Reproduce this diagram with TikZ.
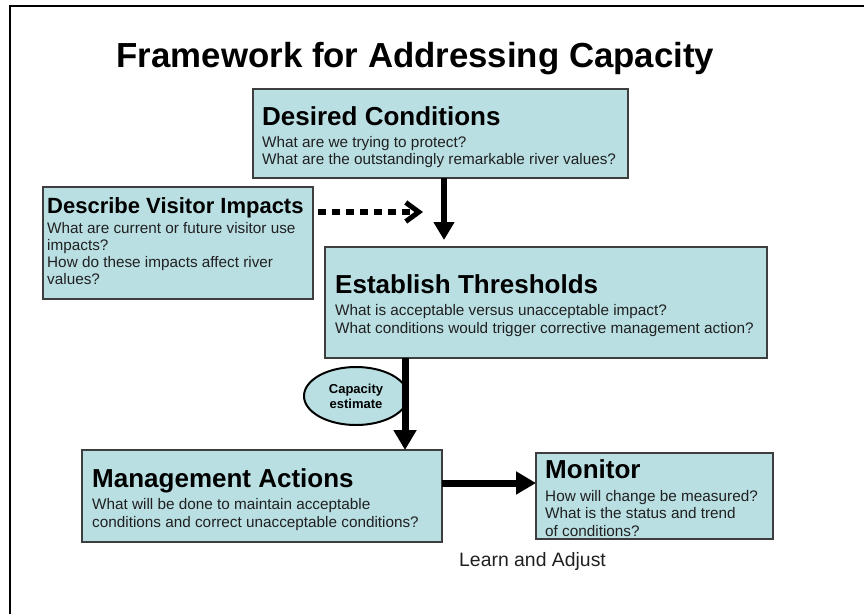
\documentclass[tikz,border=0pt]{standalone}
\usepackage{fontspec}
\setmainfont{Liberation Sans}
\usetikzlibrary{arrows.meta,shapes.geometric}
\definecolor{boxfill}{RGB}{185,223,227}
\definecolor{boxline}{RGB}{62,62,62}
\definecolor{bodytext}{RGB}{32,32,32}
\begin{document}
\begin{tikzpicture}[x=1pt,y=-1pt,
  panel/.style={draw=boxline, fill=boxfill, line width=1.4pt, rectangle,
                inner sep=0pt, outer sep=0pt, anchor=north west},
  head/.style={anchor=base west, inner sep=0pt, font=\fontsize{26}{30}\selectfont\bfseries},
  smallhead/.style={anchor=base west, inner sep=0pt, font=\fontsize{22}{26}\selectfont\bfseries},
  ln/.style={anchor=base west, inner sep=0pt, text=bodytext, font=\fontsize{15.3}{18}\selectfont},
  flow/.style={line width=7pt, -{Triangle[width=22pt,length=20pt]}},
  thinflow/.style={line width=6pt, -{Triangle[width=20pt,length=18pt]}},
  dotlink/.style={line width=6pt, dash pattern=on 8pt off 6pt,
                  -{Straight Barb[length=13pt,width=19pt,line width=5pt]}},
  bubble/.style={ellipse, draw=black, line width=2pt, fill=boxfill, inner sep=0pt,
                 minimum width=104pt, minimum height=58pt, align=center,
                 font=\fontsize{13}{15}\selectfont\bfseries}
]
\useasboundingbox (0,0) rectangle (864,614);

% outer frame (top and left edges)
\draw[line width=2.5pt] (10,614) -- (10,6) -- (864,6);

% title
\node[anchor=base, inner sep=0pt, font=\fontsize{34.8}{40}\selectfont\bfseries]
  (title) at (415.5,67) {Framework for Addressing Capacity};

% panels
\node[panel, minimum width=375pt, minimum height=89pt]  (dc)  at (253,89)  {};
\node[panel, minimum width=270pt, minimum height=112pt] (dvi) at (43,187)  {};
\node[panel, minimum width=442pt, minimum height=111pt] (et)  at (325,247) {};
\node[panel, minimum width=360pt, minimum height=92pt]  (ma)  at (82,450)  {};
\node[panel, minimum width=237pt, minimum height=86pt]  (mon) at (536,453) {};

% Desired Conditions
\node[head] (dcH)  at (262,125) {Desired Conditions};
\node[ln]   (dcA)  at (262,147) {What are we trying to protect?};
\node[ln]   (dcB)  at (262,164) {What are the outstandingly remarkable river values?};

% Describe Visitor Impacts
\node[smallhead] (dviH) at (47,213) {Describe Visitor Impacts};
\node[ln] (dviA) at (47,233) {What are current or future visitor use};
\node[ln] (dviB) at (47,250) {impacts?};
\node[ln] (dviC) at (47,267) {How do these impacts affect river};
\node[ln] (dviD) at (47,284) {values?};

% Establish Thresholds
\node[head] (etH) at (335,293) {Establish Thresholds};
\node[ln]   (etA) at (335,315) {What is acceptable versus unacceptable impact?};
\node[ln]   (etB) at (335,333) {What conditions would trigger corrective management action?};

% Management Actions
\node[head] (maH) at (92,487) {Management Actions};
\node[ln]   (maA) at (92,509) {What will be done to maintain acceptable};
\node[ln]   (maB) at (92,527) {conditions and correct unacceptable conditions?};

% Monitor
\node[head] (monH) at (545,478) {Monitor};
\node[ln]   (monA) at (545,501) {How will change be measured?};
\node[ln]   (monB) at (545,518) {What is the status and trend};
\node[ln]   (monC) at (545,536) {of conditions?};

% caption under the loop
\node[anchor=base west, inner sep=0pt, text=bodytext, font=\fontsize{19.4}{22}\selectfont]
  (learn) at (459,566) {Learn and Adjust};

% capacity estimate bubble
\node[bubble] (cap) at (356,396) {Capacity\\estimate};

% helper coordinates for connector lanes
\coordinate (laneA) at (444,0);
\coordinate (laneB) at (405,0);
\coordinate (laneC) at (0,483);
\coordinate (laneD) at (0,212);
\coordinate (tipD)  at (423,212);

% connectors
\draw[thinflow, shorten >=7pt] (dc.south -| laneA) -- (et.north -| laneA);
\draw[dotlink, shorten <=5pt] (dvi.east |- laneD) -- (tipD);
\draw[flow] (et.south -| laneB) -- (ma.north -| laneB);
\draw[flow] (ma.east |- laneC) -- (mon.west |- laneC);
\end{tikzpicture}
\end{document}
